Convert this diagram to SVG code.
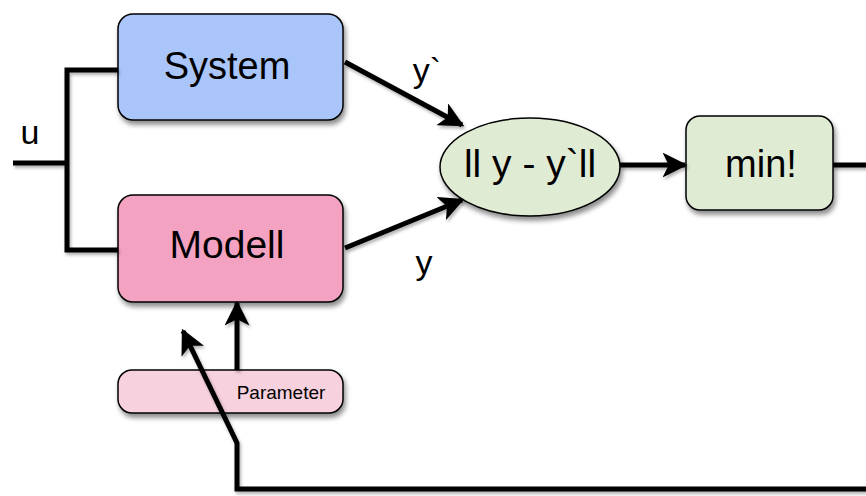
<svg xmlns="http://www.w3.org/2000/svg" width="866" height="496" viewBox="0 0 866 496">
<defs>
<filter id="sh" x="-10%" y="-10%" width="130%" height="140%">
<feDropShadow dx="2" dy="4" stdDeviation="2.5" flood-color="#000" flood-opacity="0.45"/>
</filter>
<filter id="lsh" filterUnits="userSpaceOnUse" x="0" y="0" width="866" height="496">
<feDropShadow dx="1.5" dy="2.5" stdDeviation="1.5" flood-color="#000" flood-opacity="0.3"/>
</filter>
<marker id="ah" viewBox="0 0 10 10" refX="9" refY="5" markerWidth="5" markerHeight="5" markerUnits="strokeWidth" orient="auto">
<path d="M0,0 L10,5 L0,10 L2.5,5 Z" fill="#000"/>
</marker>
<style>
.box{stroke:#000;stroke-width:1.5;filter:url(#sh)}
.t{font-family:"Liberation Sans",Arial,sans-serif;fill:#000;text-anchor:middle}
.lbl{font-size:34px}
.c{fill:none;stroke:#000;stroke-width:5;stroke-linejoin:miter}
</style>
</defs>
<g id="system">
<rect class="box" x="118" y="14" width="225" height="106" rx="15" fill="#a9c5f9"/>
<text class="t" x="227" y="79" style="font-size:38px">System</text>
</g>
<g id="modell">
<rect class="box" x="118" y="195" width="225" height="107" rx="15" fill="#f3a3c1"/>
<text class="t" x="227" y="258" style="font-size:39px">Modell</text>
</g>
<g id="parameter">
<rect class="box" x="118" y="370" width="225" height="43" rx="14" fill="#f8d1df"/>
<text class="t" x="281" y="399" style="font-size:19px">Parameter</text>
</g>
<g id="diff">
<ellipse class="box" cx="530" cy="167" rx="90" ry="49" fill="#e0ebd4"/>
<text class="t" x="530" y="177" style="font-size:39px">ll y - y`ll</text>
</g>
<g id="min">
<rect class="box" x="686" y="116" width="147" height="94" rx="14" fill="#e0ebd4"/>
<text class="t" x="761" y="177" style="font-size:38px">min!</text>
</g>
<g id="labels">
<text class="t lbl" x="30" y="144">u</text>
<text class="t lbl" x="427" y="82">y`</text>
<text class="t lbl" x="424" y="274">y</text>
</g>
<g id="connectors" filter="url(#lsh)">
<polyline class="c" points="13,163 67,163"/>
<polyline class="c" points="118,70 67,70 67,250 118,250"/>
<line class="c" x1="345" y1="62" x2="462" y2="125" marker-end="url(#ah)"/>
<line class="c" x1="345" y1="248" x2="462" y2="200" marker-end="url(#ah)"/>
<line class="c" x1="620" y1="165" x2="685" y2="165" marker-end="url(#ah)"/>
<line class="c" x1="833" y1="165" x2="868" y2="165"/>
<polyline class="c" points="868,489 237,489 237,443 183,331" marker-end="url(#ah)"/>
<line class="c" x1="237" y1="370" x2="237" y2="303" marker-end="url(#ah)"/>
</g>
</svg>
